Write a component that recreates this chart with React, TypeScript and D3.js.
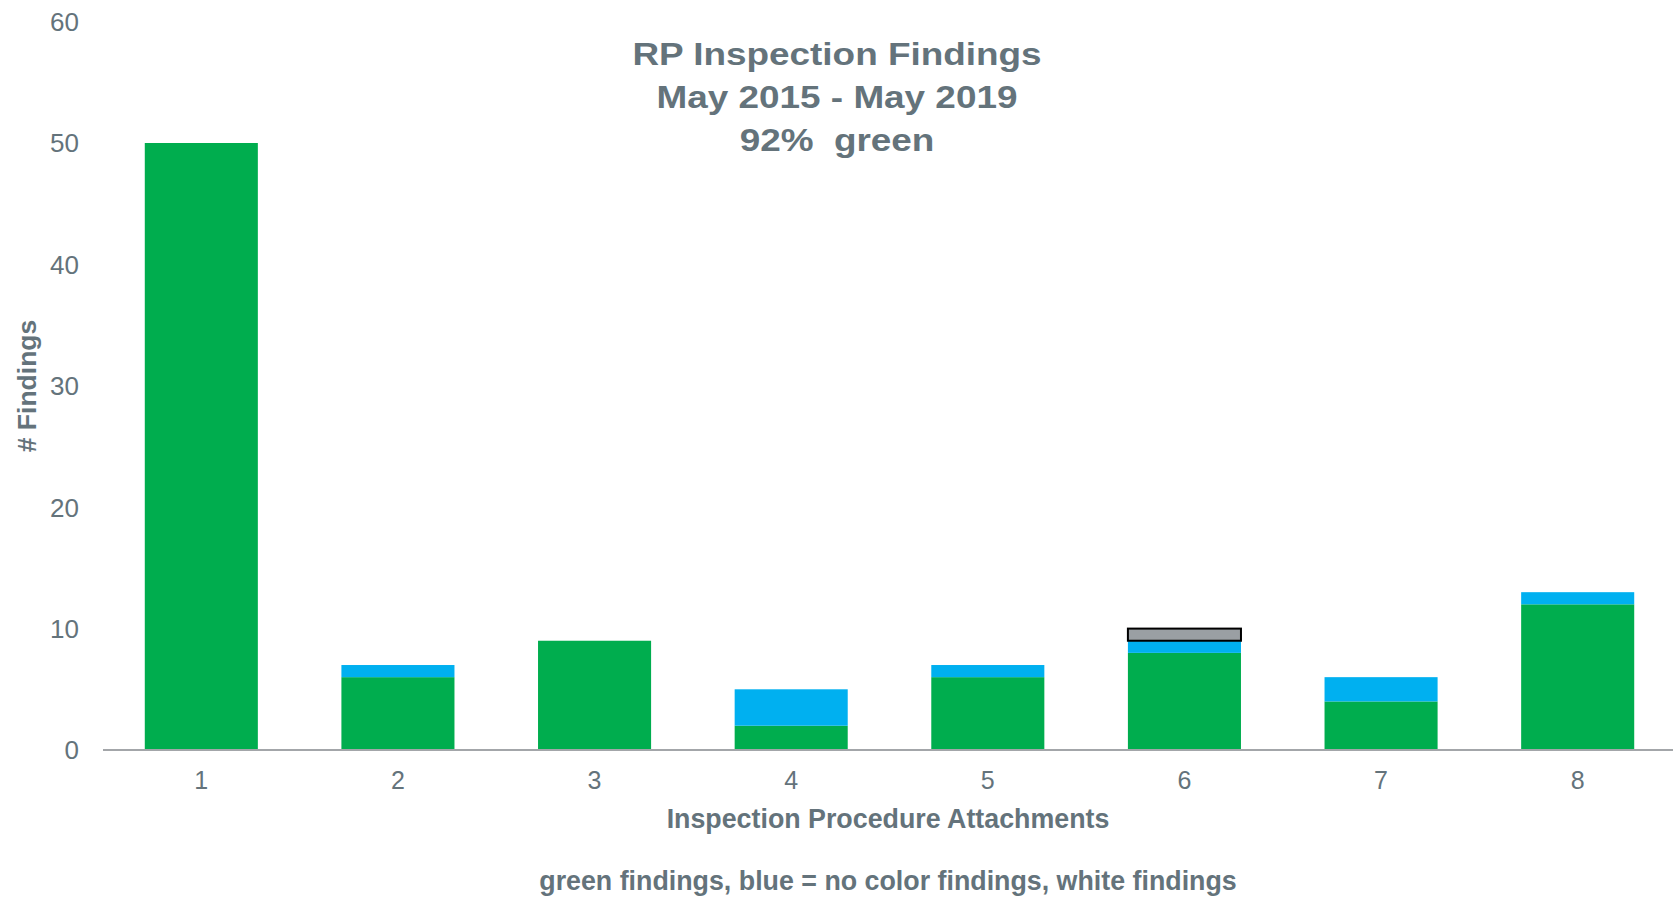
import React, { useMemo } from 'react';
import * as d3 from 'd3';

const WIDTH = 1673;
const HEIGHT = 898;
const MARGIN = { top: 21.6, right: -3, bottom: 148, left: 103 };
const FONT = '"Liberation Sans", Arial, Helvetica, sans-serif';
const TEXT_COLOR = '#64737b';

// data
const categories = ['1', '2', '3', '4', '5', '6', '7', '8'];
const greenValues = [50, 6, 9, 2, 6, 8, 4, 12];
const blueValues = [0, 1, 0, 3, 1, 1, 2, 1];
const whiteValues = [0, 0, 0, 0, 0, 1, 0, 0];
const yTicks = [0, 10, 20, 30, 40, 50, 60];

const titleLines = ['RP Inspection Findings', 'May 2015 - May 2019', '92%  green'];
const xTitle = 'Inspection Procedure Attachments';
const yTitle = '# Findings';
const footnote = 'green findings, blue = no color findings, white findings';

const SERIES = [
  { key: 'green', fill: '#00ad4e', stroke: 'none' },
  { key: 'blue', fill: '#00b0f0', stroke: 'none' },
  { key: 'white', fill: '#9a9fa3', stroke: '#000000' },
];

type Row = { cat: string; green: number; blue: number; white: number };

const App = () => {
  const boundsWidth = WIDTH - MARGIN.left - MARGIN.right;
  const boundsHeight = HEIGHT - MARGIN.top - MARGIN.bottom;

  const rows: Row[] = categories.map((c, i) => ({
    cat: c,
    green: greenValues[i],
    blue: blueValues[i],
    white: whiteValues[i],
  }));

  const xScale = useMemo(
    () => d3.scaleBand().domain(categories).range([0, boundsWidth]).paddingInner(0.425).paddingOuter(0.2125),
    [boundsWidth]
  );
  const yScale = useMemo(() => d3.scaleLinear().domain([0, 60]).range([boundsHeight, 0]), [boundsHeight]);

  const stacked = d3.stack<Row>().keys(SERIES.map((s) => s.key))(rows);

  const bars = stacked.map((layer, li) => {
    const s = SERIES[li];
    return (
      <g key={s.key}>
        {layer.map((d, i) => {
          const h = yScale(d[0]) - yScale(d[1]);
          if (h <= 0) return null;
          const x = xScale(d.data.cat) ?? 0;
          return (
            <rect
              key={i}
              x={x}
              y={yScale(d[1])}
              width={xScale.bandwidth()}
              height={h}
              fill={s.fill}
              stroke={s.stroke}
              strokeWidth={s.stroke === 'none' ? 0 : 2}
            />
          );
        })}
      </g>
    );
  });

  return (
    <svg width={WIDTH} height={HEIGHT} style={{ position: 'absolute', left: 0, top: 0 }} fontFamily={FONT}>
      <rect width={WIDTH} height={HEIGHT} fill="#ffffff" />
      <g transform={`translate(${MARGIN.left},${MARGIN.top})`}>
        {yTicks.map((t) => (
          <text key={t} x={-24} y={yScale(t) + 9.5} textAnchor="end" fontSize={26} fill={TEXT_COLOR}>
            {t}
          </text>
        ))}
        {bars}
        <line x1={0} x2={boundsWidth} y1={boundsHeight} y2={boundsHeight} stroke="#a3a6a9" strokeWidth={2} />
        {categories.map((c) => (
          <text
            key={c}
            x={(xScale(c) ?? 0) + xScale.bandwidth() / 2}
            y={boundsHeight + 39}
            textAnchor="middle"
            fontSize={25}
            fill={TEXT_COLOR}
          >
            {c}
          </text>
        ))}
      </g>
      {titleLines.map((line, i) => (
        <text
          key={i}
          transform={`translate(837,${65 + i * 43}) scale(1.19,1)`}
          textAnchor="middle"
          fontSize={31}
          fontWeight="bold"
          fill={TEXT_COLOR}
          style={{ whiteSpace: 'pre' }}
        >
          {line}
        </text>
      ))}
      <text x={888} y={828} textAnchor="middle" fontSize={26.8} fontWeight="bold" fill={TEXT_COLOR}>
        {xTitle}
      </text>
      <text
        transform="translate(36,386) rotate(-90)"
        textAnchor="middle"
        fontSize={26.5}
        fontWeight="bold"
        fill={TEXT_COLOR}
      >
        {yTitle}
      </text>
      <text x={888} y={890} textAnchor="middle" fontSize={26.8} fontWeight="bold" fill={TEXT_COLOR}>
        {footnote}
      </text>
    </svg>
  );
};

export default App;
